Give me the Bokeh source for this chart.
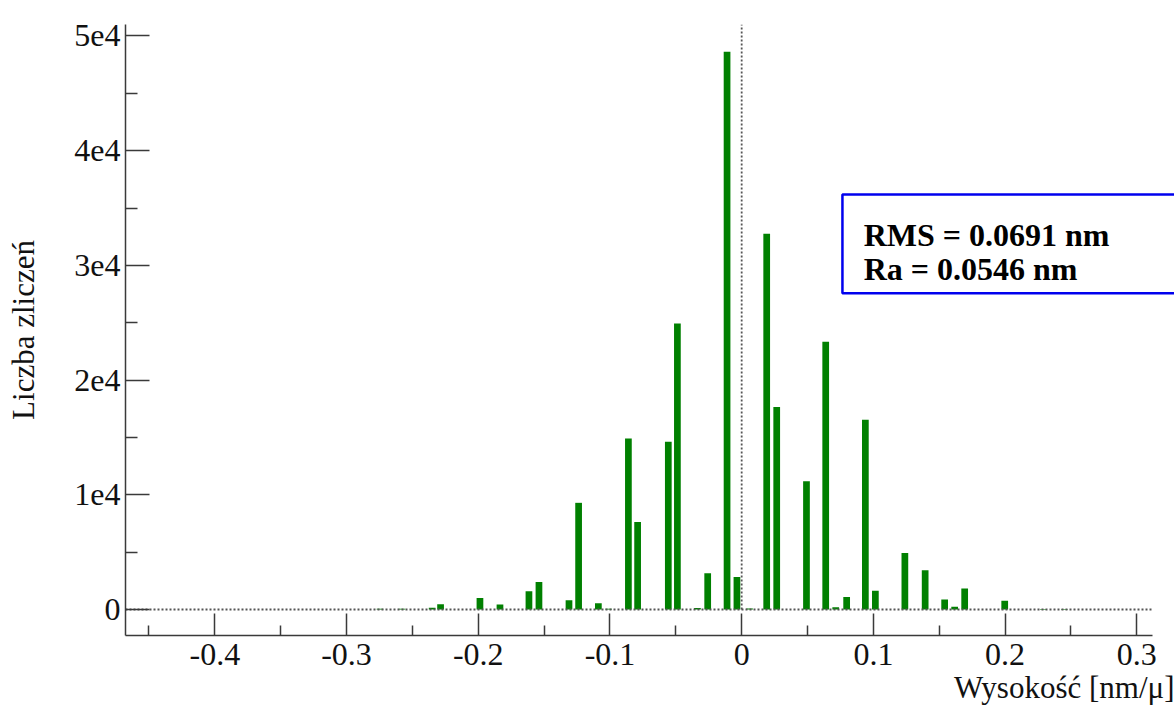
from bokeh.plotting import figure
from bokeh.models import FixedTicker, Label, BoxAnnotation, Range1d, ColumnDataSource, Title
from bokeh.embed import file_html
from bokeh.resources import INLINE

# ---- data ----
bin_centers = [-0.2746, -0.2580, -0.2350, -0.2286, -0.1987, -0.1835, -0.1615, -0.1539,
               -0.1311, -0.1238, -0.1088, -0.1010, -0.0860, -0.0790, -0.0557, -0.0488,
               -0.0336, -0.0258, -0.0111, -0.0036, 0.0060, 0.0190, 0.0266, 0.0492,
               0.0638, 0.0714, 0.0797, 0.0939, 0.1015, 0.1239, 0.1393, 0.1541,
               0.1617, 0.1693, 0.1997, 0.2290, 0.2450]
counts = [60, 60, 150, 450, 1000, 440, 1600, 2400,
          800, 9300, 540, 60, 14900, 7620, 14630, 24930,
          120, 3150, 48630, 2830, 80, 32750, 17650, 11180,
          23350, 200, 1100, 16540, 1630, 4920, 3430, 870,
          230, 1830, 760, 50, 50]

x_ticks = [-0.4, -0.3, -0.2, -0.1, 0, 0.1, 0.2, 0.3]
x_tick_labels = ["-0.4", "-0.3", "-0.2", "-0.1", "0", "0.1", "0.2", "0.3"]
x_minor = [-0.45, -0.35, -0.25, -0.15, -0.05, 0.05, 0.15, 0.25]
y_ticks = [0, 10000, 20000, 30000, 40000, 50000]
y_tick_labels = ["0", "1e4", "2e4", "3e4", "4e4", "5e4"]
y_minor = [5000, 15000, 25000, 35000, 45000]

stats_lines = ["RMS = 0.0691 nm", "Ra = 0.0546 nm"]
x_title = "Wysokość [nm/μ]"
y_title = "Liczba zliczeń"

FONT = "Liberation Serif"
AXIS_COLOR = "#3a3a3a"

x_lo, x_hi, x_axis_end = -0.4678, 0.3286, 0.3121
y_lo, y_hi = -2267, 51002

p = figure(width=1174, height=708, output_backend="svg", toolbar_location=None,
           x_range=Range1d(x_lo, x_hi), y_range=Range1d(y_lo, y_hi),
           min_border_left=125, min_border_right=0, min_border_top=24, min_border_bottom=73)
p.outline_line_color = None
p.background_fill_color = "white"
p.border_fill_color = "white"
p.xgrid.visible = False
p.ygrid.visible = False

src = ColumnDataSource(dict(x=bin_centers, top=counts))
p.vbar(x="x", top="top", bottom=0, width=0.0051, source=src,
       fill_color="#008000", line_color=None)

# dotted reference lines at zero
p.line(x=[x_lo, x_axis_end], y=[0, 0], line_color="#555555", line_width=1.8, line_dash="2 2")
p.line(x=[0, 0], y=[0, y_hi], line_color="#555555", line_width=1.8, line_dash="2 2")

# axes
for ax in (p.xaxis[0], p.yaxis[0]):
    ax.axis_line_color = AXIS_COLOR
    ax.axis_line_width = 1.5
    ax.major_tick_line_color = AXIS_COLOR
    ax.major_tick_line_width = 1.5
    ax.minor_tick_line_color = AXIS_COLOR
    ax.minor_tick_line_width = 1.5
    ax.major_tick_out = 0
    ax.minor_tick_out = 0
    ax.major_label_text_font = FONT
    ax.major_label_text_font_size = "32px"
    ax.major_label_text_color = "#111111"

p.xaxis.ticker = FixedTicker(ticks=x_ticks, minor_ticks=x_minor)
p.xaxis.major_label_overrides = {t: l for t, l in zip(x_ticks, x_tick_labels)}
p.xaxis.major_tick_in = 22
p.xaxis.minor_tick_in = 10
p.xaxis.major_label_standoff = 8
p.xaxis.bounds = (x_lo, x_axis_end)

title_done = False
try:
    p.xaxis.axis_label_align = "right"
    p.xaxis.axis_label = x_title
    p.xaxis.axis_label_text_font = FONT
    p.xaxis.axis_label_text_font_size = "31px"
    p.xaxis.axis_label_text_font_style = "normal"
    p.xaxis.axis_label_text_color = "#111111"
    p.xaxis.axis_label_standoff = -1
    title_done = True
except Exception:
    title_done = False
if not title_done:
    p.add_layout(Title(text=x_title, align="right", text_font=FONT,
                       text_font_size="31px", text_font_style="normal",
                       text_color="#111111", standoff=0), "below")

p.yaxis.ticker = FixedTicker(ticks=y_ticks, minor_ticks=y_minor)
p.yaxis.major_label_overrides = {t: l for t, l in zip(y_ticks, y_tick_labels)}
p.yaxis.major_tick_in = 24
p.yaxis.minor_tick_in = 12
p.yaxis.major_label_standoff = 5
p.yaxis.axis_label = y_title
p.yaxis.axis_label_text_font = FONT
p.yaxis.axis_label_text_font_size = "31px"
p.yaxis.axis_label_text_font_style = "normal"
p.yaxis.axis_label_text_color = "#111111"
p.yaxis.axis_label_standoff = 30

# statistics box
p.add_layout(BoxAnnotation(left=0.0765, right=0.40, top=36180, bottom=27580,
                           fill_color="white", fill_alpha=1.0,
                           line_color="#0000ee", line_alpha=1.0, line_width=2.5,
                           level="overlay"))
for txt, yb in zip(stats_lines, [32610, 29700]):
    p.add_layout(Label(x=0.0926, y=yb, text=txt, text_font=FONT,
                       text_font_size="32px", text_font_style="bold",
                       text_color="black", text_baseline="alphabetic", level="overlay"))

open("out.html", "w").write(file_html(p, INLINE))
